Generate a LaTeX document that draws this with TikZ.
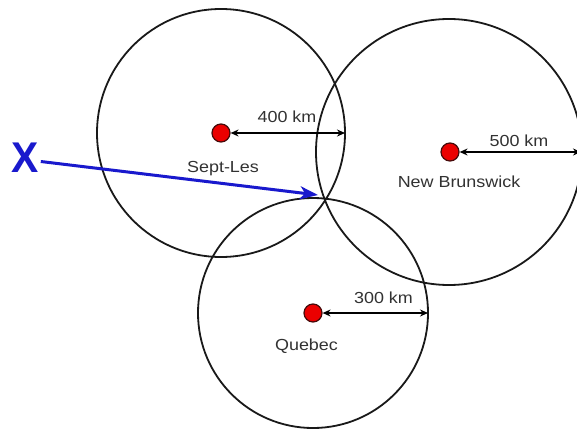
\documentclass[tikz,border=0pt]{standalone}
\usepackage{fontspec}
\setmainfont{Liberation Sans}[FakeStretch=1.12]
\newfontfamily\xfont{Liberation Sans}[FakeStretch=0.95]
\usetikzlibrary{arrows.meta}
\definecolor{txt}{RGB}{50,50,50}
\definecolor{dotred}{RGB}{235,0,0}
\definecolor{dotedge}{RGB}{70,10,10}
\definecolor{xblue}{RGB}{25,25,205}
\tikzset{
  ring/.style={draw=black!90, line width=1.8pt},
  city/.style={circle, fill=dotred, draw=dotedge, line width=1.2pt, minimum size=18pt, inner sep=0pt},
  lbl/.style={text=txt, font=\fontsize{16}{18}\selectfont, anchor=base, inner sep=0pt},
  dist/.style={line width=1.4pt, {Stealth[length=8pt,width=7pt]}-{Stealth[length=8pt,width=7pt]}},
  xarrow/.style={draw=xblue, line width=3pt, -{Stealth[length=18pt,width=13pt,inset=5pt]}}
}
\begin{document}
\begin{tikzpicture}[x=1pt,y=-1pt]
\useasboundingbox (0,0) rectangle (577,430);
\clip (0,0) rectangle (577,430);
\fill[white] (0,0) rectangle (577,430);
% circles
\draw[ring] (221,133) circle[radius=124];
\draw[ring] (449,152) circle[radius=133];
\draw[ring] (313,313) circle[radius=115];
% rim points
\coordinate (slr) at (345,133);
\coordinate (nbr) at (581,152);
\coordinate (qur) at (428,313);
\coordinate (meet) at (318,195);
% cities
\node[city] (sl) at (221,133) {};
\node[city] (nb) at (450,152) {};
\node[city] (qu) at (313,313) {};
% distance arrows
\draw[dist] (sl.east) -- (slr);
\draw[dist] (nb.east) -- (nbr);
\draw[dist] (qu.east) -- (qur);
% labels
\node[lbl] (l400) at (287,123) {400 km};
\node[lbl] (lsl) at (223,173) {Sept-Les};
\node[lbl] (l500) at (519,147) {500 km};
\node[lbl] (lnb) at (459,187) {New Brunswick};
\node[lbl] (l300) at (383.5,303) {300 km};
\node[lbl] (lqu) at (306.5,350) {Quebec};
% X
\node[text=xblue, font=\xfont\bfseries\fontsize{43}{43}\selectfont, inner sep=0pt] (x) at (25,157.5) {X};
\draw[xarrow] (x.east) ++(2,4) -- (meet);
\end{tikzpicture}
\end{document}
